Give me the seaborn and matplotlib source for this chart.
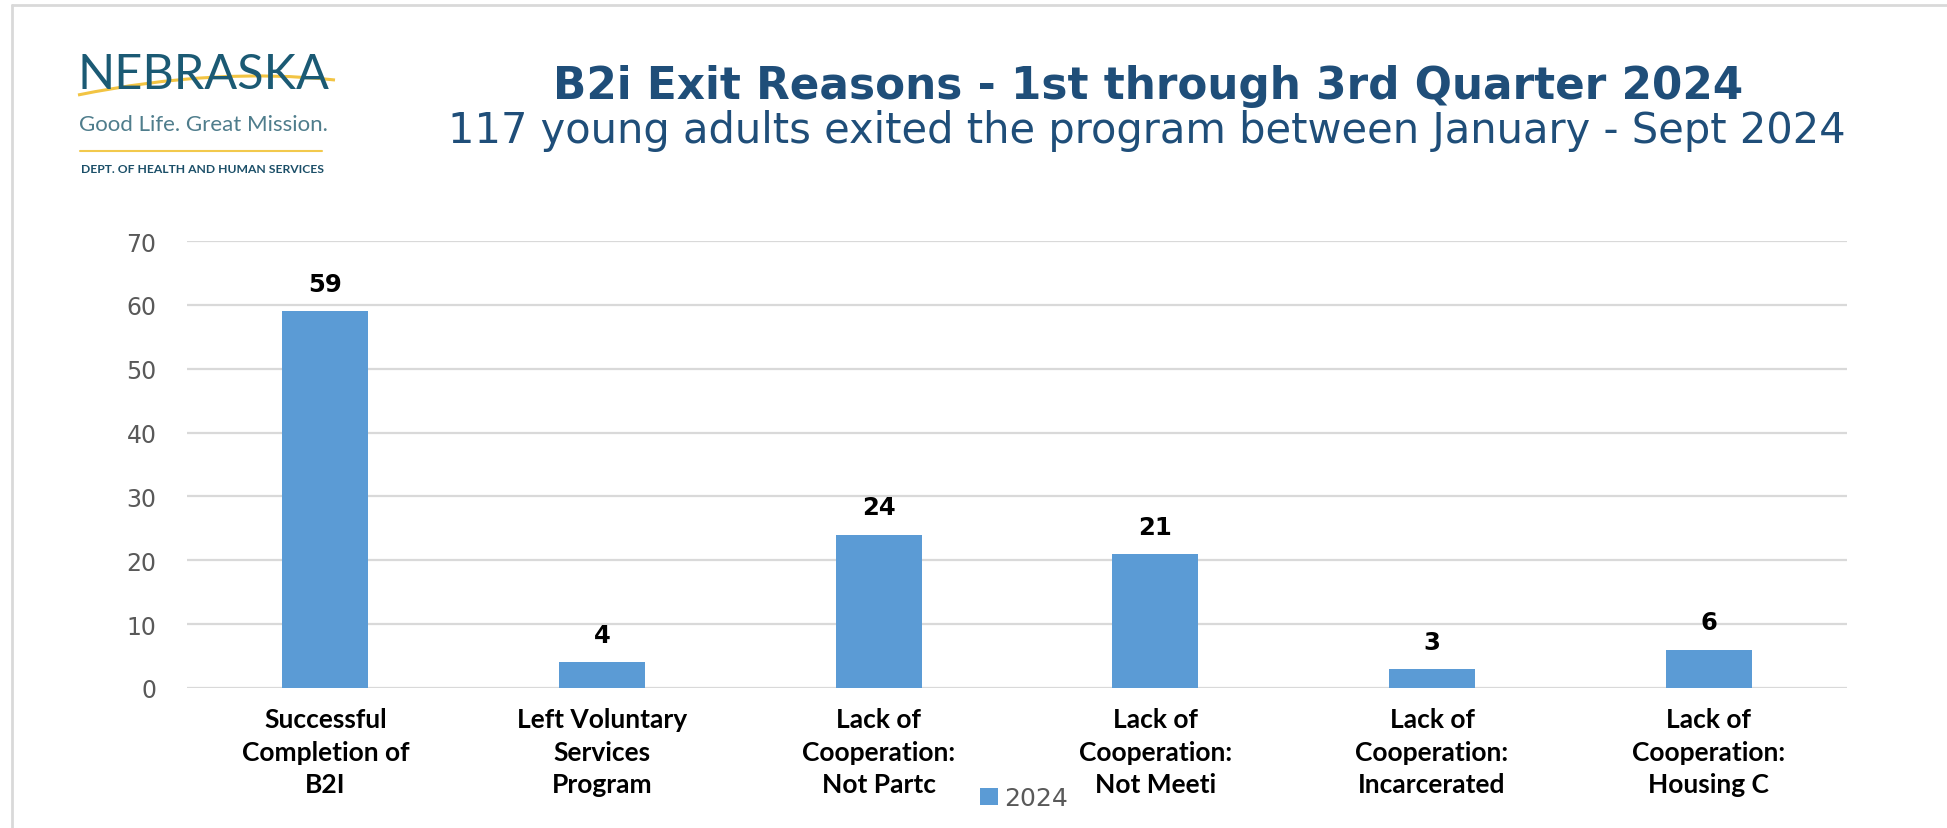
import matplotlib
matplotlib.use("Agg")
import matplotlib.pyplot as plt
import seaborn as sns
import pandas as pd
import numpy as np
from matplotlib.lines import Line2D
from matplotlib.patches import PathPatch
from matplotlib.path import Path

# ---- data ----
categories = [
    "Successful\nCompletion of\nB2I",
    "Left Voluntary\nServices\nProgram",
    "Lack of\nCooperation:\nNot Partc",
    "Lack of\nCooperation:\nNot Meeti",
    "Lack of\nCooperation:\nIncarcerated",
    "Lack of\nCooperation:\nHousing C",
]
values = [59, 4, 24, 21, 3, 6]
series_name = ["2024"] * len(categories)
y_ticks = [0, 10, 20, 30, 40, 50, 60, 70]

title = "B2i Exit Reasons - 1st through 3rd Quarter 2024"
subtitle = "117 young adults exited the program between January - Sept 2024"

df = pd.DataFrame({"reason": categories, "count": values, "year": series_name})

sns.set_theme(style="white")
plt.rcParams["font.family"] = ["DejaVu Sans"]

W, H = 1947, 829
fig = plt.figure(figsize=(W / 100, H / 100), dpi=100)
fig.patch.set_facecolor("white")

ax = fig.add_axes([187 / W, 1 - 689 / H, (1847 - 187) / W, (689 - 242) / H])

bar_color = "#5B9BD5"
sns.barplot(data=df, x="reason", y="count", hue="year", palette=[bar_color],
            width=0.31, dodge=False, ax=ax, saturation=1, linewidth=0)

ax.set_ylim(0, 70)
ax.set_xlim(-0.5, len(categories) - 0.5)
ax.set_yticks(y_ticks)
ax.yaxis.grid(True, color="#d9d9d9", linewidth=1.6)
ax.set_axisbelow(True)
for s in ax.spines.values():
    s.set_visible(False)
ax.set_xlabel("")
ax.set_ylabel("")
ax.tick_params(axis="y", length=0, pad=22, labelsize=17, labelcolor="#595959")
ax.tick_params(axis="x", length=0, pad=14)
ax.set_xticks(range(len(categories)))
ax.set_xticklabels(categories, fontsize=19, fontweight="bold", color="black",
                   family=["Lato", "DejaVu Sans"], linespacing=1.42)

for i, v in enumerate(values):
    ax.annotate(str(v), xy=(i, v), xytext=(0, 11), textcoords="offset points",
                ha="center", va="bottom", fontsize=17.5, fontweight="bold", color="black")

sns.move_legend(ax, loc="center", bbox_to_anchor=(1024 / W, 1 - 799 / H),
                bbox_transform=fig.transFigure, frameon=False, title=None,
                fontsize=18, handlelength=0.7, handleheight=0.7, handletextpad=0.25,
                labelcolor="#595959")

# ---- titles ----
fig.text(1148 / W, 1 - 86 / H, title, ha="center", va="center", fontsize=31.5,
         fontweight="bold", color="#1F4E79")
fig.text(1147 / W, 1 - 131 / H, subtitle, ha="center", va="center", fontsize=30,
         color="#1F4E79")

# ---- logo ----
fig.text(77 / W, 1 - 89 / H, "NEBRASKA", ha="left", va="baseline", fontsize=35,
         family=["Lato", "DejaVu Sans"], color="#1B5A74")
verts = [(78 / W, 1 - 96 / H), (215 / W, 1 - 68 / H), (335 / W, 1 - 81 / H)]
swoosh = PathPatch(Path(verts, [Path.MOVETO, Path.CURVE3, Path.CURVE3]),
                   transform=fig.transFigure, facecolor="none", edgecolor="#F2C443",
                   linewidth=2.2)
fig.add_artist(swoosh)
fig.text(79 / W, 1 - 131 / H, "Good Life. Great Mission.", ha="left", va="baseline",
         fontsize=16, family=["Lato", "DejaVu Sans"], color="#4F7D8C")
fig.add_artist(Line2D([80 / W, 322 / W], [1 - 152 / H, 1 - 152 / H],
                      transform=fig.transFigure, color="#F2C94C", linewidth=1.5))
fig.text(81 / W, 1 - 173 / H, "DEPT. OF HEALTH AND HUMAN SERVICES", ha="left",
         va="baseline", fontsize=8.7, fontweight="bold",
         family=["Lato", "DejaVu Sans"], color="#1B4F68")

# ---- frame lines ----
fig.add_artist(Line2D([12 / W, 1], [1 - 6 / H, 1 - 6 / H], transform=fig.transFigure,
                      color="#d9d9d9", linewidth=2))
fig.add_artist(Line2D([12 / W, 12 / W], [0, 1 - 6 / H], transform=fig.transFigure,
                      color="#d9d9d9", linewidth=2))

fig.savefig("out.png", dpi=100, facecolor="white")
